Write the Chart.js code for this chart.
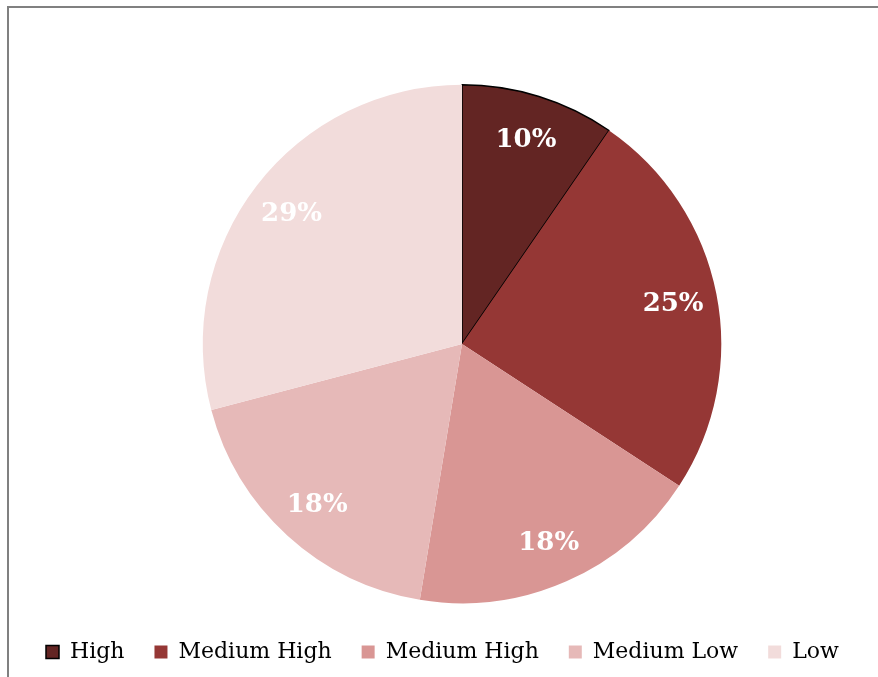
<!DOCTYPE html>
<html>
<head>
<meta charset="utf-8">
<script src="https://cdn.jsdelivr.net/npm/chart.js@4"></script>
<style>
  html, body { margin: 0; padding: 0; overflow: hidden; background: #fff; }
  #frame { position: absolute; left: 7px; top: 6px; width: 1000px; height: 1000px;
           border-left: 2px solid #808080; border-top: 2px solid #808080; }
  #wrap { position: absolute; left: 0; top: 0; width: 908px; height: 677px; }
</style>
</head>
<body>
<div id="frame"></div>
<div id="wrap"><canvas id="riskPie"></canvas></div>
<script>
// Share of items per risk level
const categories = ["High", "Medium High", "Medium High", "Medium Low", "Low"];
const shares = [9.6, 24.6, 18.4, 18.3, 29.1];
const sliceColors = ["#632523", "#953735", "#d99694", "#e6b9b8", "#f2dcdb"];

// percent labels drawn inside each slice
const pctLabels = {
  id: "pctLabels",
  afterDatasetsDraw(chart) {
    const ctx = chart.ctx;
    const meta = chart.getDatasetMeta(0);
    const total = shares.reduce((a, b) => a + b, 0);
    ctx.save();
    ctx.font = "bold 26px 'DejaVu Serif'";
    ctx.fillStyle = "#fff";
    ctx.textAlign = "center";
    ctx.textBaseline = "middle";
    meta.data.forEach((arc, i) => {
      const mid = (arc.startAngle + arc.endAngle) / 2;
      const r = arc.outerRadius * 0.83;
      const x = arc.x + Math.cos(mid) * r;
      const y = arc.y + Math.sin(mid) * r + 2;
      ctx.fillText(Math.round((shares[i] / total) * 100) + "%", x, y);
    });
    ctx.restore();
  },
};

new Chart(document.getElementById("riskPie"), {
  type: "pie",
  data: {
    labels: categories,
    datasets: [
      {
        data: shares,
        backgroundColor: sliceColors,
        borderColor: ["#000", "#000", "#000", "#000", "#000"],
        borderWidth: [1.5, 0, 0, 0, 0],
      },
    ],
  },
  options: {
    responsive: true,
    maintainAspectRatio: false,
    animation: false,
    layout: { padding: { left: 16, right: 0, top: 84, bottom: 4 } },
    plugins: {
      tooltip: { enabled: false },
      legend: {
        position: "bottom",
        align: "start",
        // empty title only used as a spacer above the legend row
        title: { display: true, text: "", font: { size: 7, lineHeight: 1 }, padding: 0 },
        labels: {
          boxWidth: 13,
          boxHeight: 13,
          padding: 30,
          color: "#000",
          font: { family: "'DejaVu Serif'", size: 22 },
        },
      },
    },
  },
  plugins: [pctLabels],
});
</script>
</body>
</html>
